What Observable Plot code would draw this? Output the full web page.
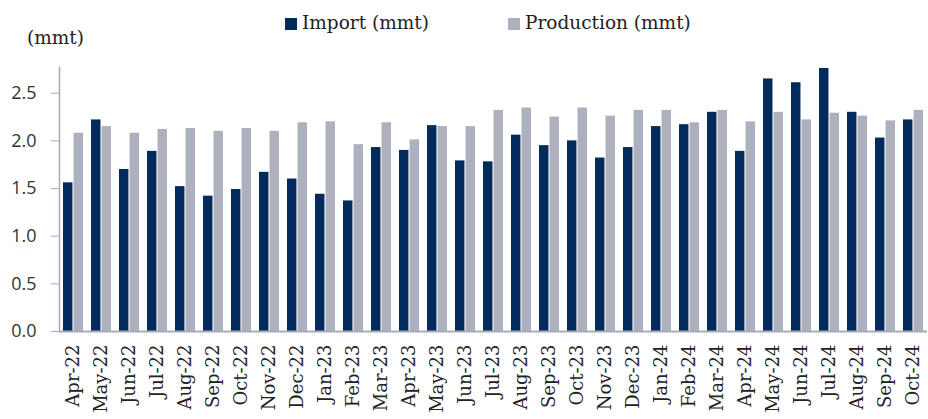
<!DOCTYPE html>
<html>
<head>
<meta charset="utf-8">
<script src="https://cdn.jsdelivr.net/npm/d3@7"></script>
<script src="https://cdn.jsdelivr.net/npm/@observablehq/plot@0.6"></script>
<style>
  html, body { margin: 0; padding: 0; background: #fff; }
  #wrap { width: 928px; height: 419px; position: relative; overflow: hidden; }
  #head { position: relative; width: 928px; height: 50px; font-family: "DejaVu Serif", serif; color: #222; }
  .lg { position: absolute; top: 12px; font-size: 18.5px; line-height: 22px; white-space: nowrap; }
  .sw { display: inline-block; width: 12px; height: 12px; margin-right: 5px; vertical-align: -1px; }
  #unit { position: absolute; left: 27px; top: 27px; font-size: 18.5px; line-height: 22px; }
  #chart g[aria-label="y-axis tick label"], #chart g[aria-label="y-axis tick label"] text { font-family: "Open Sans", sans-serif; }
  #chart g[aria-label="x-axis tick label"], #chart g[aria-label="x-axis tick label"] text { font-family: "DejaVu Serif", serif; }
</style>
</head>
<body>
<div id="wrap">
  <div id="head">
    <div class="lg" style="left:285px"><span class="sw" style="background:#002B5C"></span>Import (mmt)</div>
    <div class="lg" style="left:508px"><span class="sw" style="background:#ADB0BF"></span>Production (mmt)</div>
    <div id="unit">(mmt)</div>
  </div>
  <div id="chart"></div>
</div>
<script>
const months = ["Apr-22","May-22","Jun-22","Jul-22","Aug-22","Sep-22","Oct-22","Nov-22","Dec-22","Jan-23","Feb-23","Mar-23","Apr-23","May-23","Jun-23","Jul-23","Aug-23","Sep-23","Oct-23","Nov-23","Dec-23","Jan-24","Feb-24","Mar-24","Apr-24","May-24","Jun-24","Jul-24","Aug-24","Sep-24","Oct-24"];
const imports = [1.56,2.22,1.70,1.89,1.52,1.42,1.49,1.67,1.60,1.44,1.37,1.93,1.90,2.16,1.79,1.78,2.06,1.95,2.00,1.82,1.93,2.15,2.17,2.30,1.89,2.65,2.61,2.76,2.30,2.03,2.22];
const production = [2.08,2.15,2.08,2.12,2.13,2.10,2.13,2.10,2.19,2.20,1.96,2.19,2.01,2.15,2.15,2.32,2.345,2.25,2.345,2.26,2.32,2.32,2.19,2.32,2.20,2.30,2.22,2.29,2.26,2.21,2.32];
const yTicks = [0, 0.5, 1.0, 1.5, 2.0, 2.5];

const importData = months.map((m, i) => ({month: m, value: imports[i]}));
const prodData = months.map((m, i) => ({month: m, value: production[i]}));

const W = 928, H = 369, mL = 59, mR = 1;
const pI = 0.29, pO = 0.14;
const step = (W - mL - mR) / (months.length - pI + 2 * pO);
const bw = step * (1 - pI);
const half = bw / 2;

const chart = Plot.plot({
  width: W,
  height: H,
  marginTop: 17,
  marginBottom: 88,
  marginLeft: mL,
  marginRight: mR,
  style: {background: "#fff"},
  x: {domain: months, paddingInner: pI, paddingOuter: pO, label: null},
  y: {domain: [0, 2.77], label: null},
  marks: [
    Plot.barY(importData, {x: "month", y: "value", fill: "#002B5C", insetRight: half + 0.6, insetLeft: 0}),
    Plot.barY(prodData, {x: "month", y: "value", fill: "#ADB0BF", insetLeft: half + 0.6, insetRight: 0}),
    Plot.frame({anchor: "left", stroke: "#A7AAB8", strokeWidth: 1.5}),
    Plot.ruleY([0], {stroke: "#A7AAB8", strokeWidth: 2}),
    Plot.axisY({ticks: yTicks, tickFormat: d3.format(".1f"), tickSize: 8, tickPadding: 15, stroke: "#A7AAB8", fill: "#333", fontSize: 18, label: null}),
    Plot.axisX({tickSize: 0, tickPadding: 13, tickRotate: -90, fontSize: 18, fill: "#222", label: null})
  ]
});
document.getElementById("chart").appendChild(chart);
</script>
</body>
</html>
